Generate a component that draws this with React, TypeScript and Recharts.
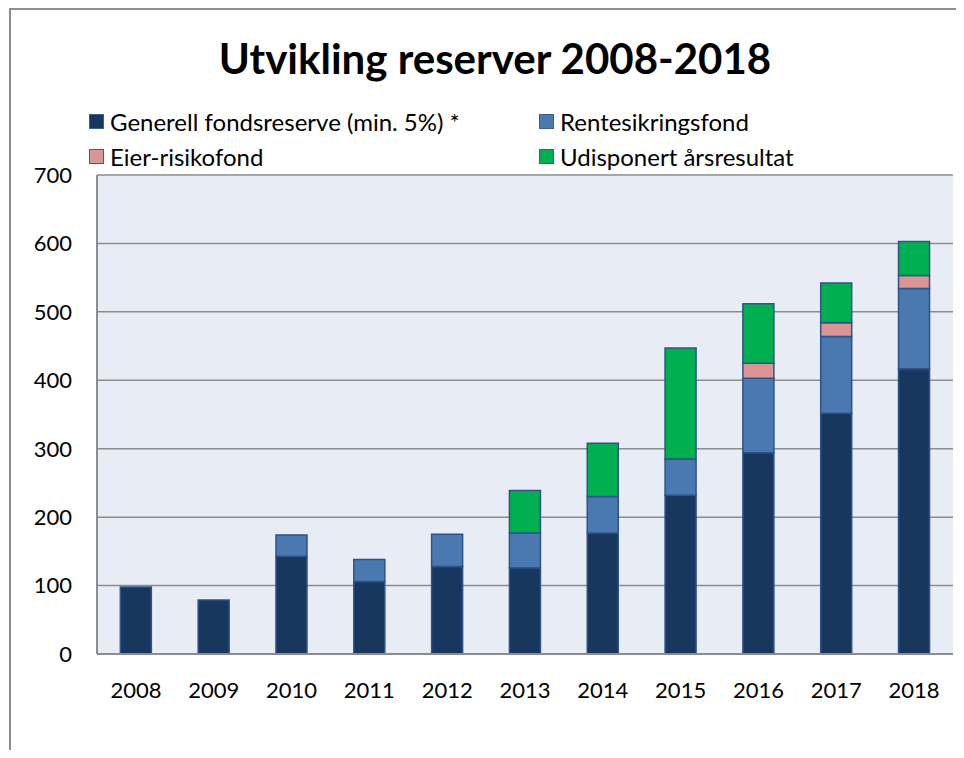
import { BarChart, Bar, XAxis, YAxis, CartesianGrid } from 'recharts'

const years = ['2008', '2009', '2010', '2011', '2012', '2013', '2014', '2015', '2016', '2017', '2018']
const generell = [98, 79, 143, 106, 128, 126, 177, 232, 294, 352, 417]
const rente = [0, 0, 31, 32, 47, 51, 53, 53, 109, 112, 117]
const eier = [0, 0, 0, 0, 0, 0, 0, 0, 22, 20, 19]
const udisp = [0, 0, 0, 0, 0, 62, 78, 162, 87, 58, 50]
const yTicks = [0, 100, 200, 300, 400, 500, 600, 700]

const series = [
  { key: 'generell', name: 'Generell fondsreserve (min. 5%) *', color: '#17375E' },
  { key: 'rente', name: 'Rentesikringsfond', color: '#4A78B0' },
  { key: 'eier', name: 'Eier-risikofond', color: '#D99694' },
  { key: 'udisp', name: 'Udisponert årsresultat', color: '#00B050' },
]

const data = years.map((year, i) => ({
  year,
  generell: generell[i],
  rente: rente[i],
  eier: eier[i],
  udisp: udisp[i],
}))

const FONT = 'Lato, "Open Sans", sans-serif'

function LegendBox() {
  return (
    <div
      style={{
        position: 'absolute',
        left: 81,
        top: 98,
        display: 'grid',
        gridTemplateColumns: '450px 320px',
        rowGap: 5,
        fontFamily: FONT,
        fontSize: 24,
        color: '#000',
      }}
    >
      {series.map((s) => (
        <div key={s.key} style={{ display: 'flex', alignItems: 'center', height: 30, whiteSpace: 'nowrap' }}>
          <span
            style={{
              display: 'inline-block',
              width: 13,
              height: 13,
              background: s.color,
              border: '1.5px solid #3A5F93',
              marginRight: 6,
            }}
          />
          {s.name}
        </div>
      ))}
    </div>
  )
}

export default function App() {
  return (
    <div style={{ position: 'relative', width: 948, height: 742, overflow: 'hidden' }}>
      <div
        style={{
          position: 'absolute',
          left: 1,
          top: 0,
          width: 1000,
          height: 800,
          borderTop: '2px solid #8E8E8E',
          borderLeft: '2px solid #8E8E8E',
        }}
      />
      <div
        style={{
          position: 'absolute',
          left: 0,
          width: 974,
          top: 25,
          textAlign: 'center',
          fontFamily: FONT,
          fontWeight: 700,
          fontSize: 42,
          color: '#000',
        }}
      >
        Utvikling reserver 2008-2018
      </div>
      <LegendBox />
      <BarChart
        width={948}
        height={742}
        data={data}
        margin={{ top: 167, right: 3, bottom: 46, left: 0 }}
        barCategoryGap="30%"
      >
        <CartesianGrid
          vertical={false}
          stroke="#8C8C8C"
          strokeWidth={1.5}
          fill="#E8ECF4"
          fillOpacity={1}
        />
        <XAxis
          dataKey="year"
          height={50}
          tickLine={false}
          axisLine={{ stroke: '#8C8C8C', strokeWidth: 2 }}
          tickMargin={22}
          tick={{ fill: '#000', fontSize: 22, fontFamily: FONT }}
        />
        <YAxis
          width={89}
          domain={[0, 700]}
          ticks={yTicks}
          tickLine={false}
          axisLine={{ stroke: '#8C8C8C', strokeWidth: 2 }}
          tickMargin={19}
          tick={{ fill: '#000', fontSize: 22, fontFamily: FONT }}
        />
        {series.map((s) => (
          <Bar
            key={s.key}
            dataKey={s.key}
            name={s.name}
            stackId="a"
            fill={s.color}
            stroke="#2F5386"
            strokeWidth={1.5}
            isAnimationActive={false}
          />
        ))}
      </BarChart>
    </div>
  )
}
